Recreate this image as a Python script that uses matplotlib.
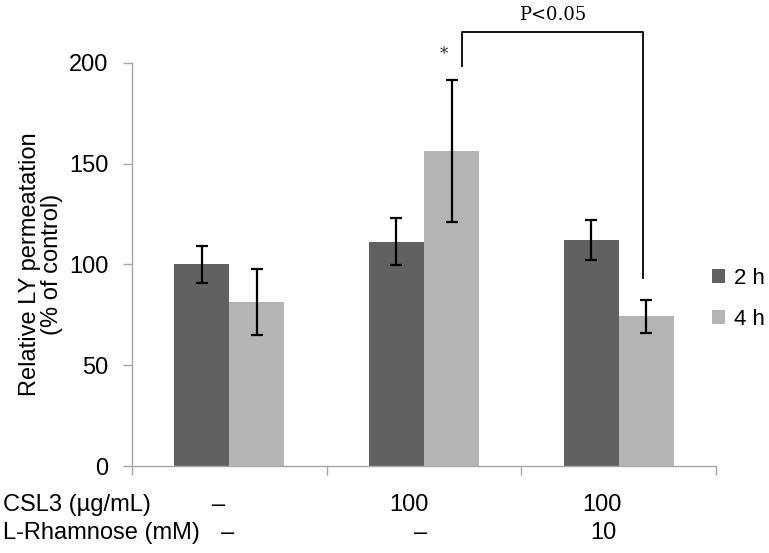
import numpy as np
import matplotlib
matplotlib.use("Agg")
import matplotlib.pyplot as plt

plt.rcParams['font.family'] = ['Liberation Sans', 'DejaVu Sans']

# datos
grupos = [0, 1, 2]
val_2h = [100, 111.3, 112]
err_2h = [9, 11.7, 10]
val_4h = [81.5, 156.2, 74.2]
err_4h = [16.3, 35, 8.1]
fila_csl3 = ["\u2013", "100", "100"]
fila_rham = ["\u2013", "\u2013", "10"]
serie_labels = ["2 h", "4 h"]

c_oscuro = "#616161"
c_claro = "#b4b4b4"
gris = "#a6a6a6"
ancho = 0.283

fig = plt.figure(figsize=(7.69, 5.53), dpi=100)
ax = fig.add_axes([0.1717, 0.1573, 0.7594, 0.7293])

x = np.array(grupos)
ax.bar(x - ancho/2, val_2h, ancho, color=c_oscuro, label=serie_labels[0], zorder=2)
ax.bar(x + ancho/2, val_4h, ancho, color=c_claro, label=serie_labels[1], zorder=2)
ax.errorbar(x - ancho/2, val_2h, yerr=err_2h, fmt='none', ecolor='black',
            elinewidth=1.6, capsize=4, capthick=1.6, zorder=3)
ax.errorbar(x + ancho/2, val_4h, yerr=err_4h, fmt='none', ecolor='black',
            elinewidth=1.6, capsize=4, capthick=1.6, zorder=3)

ax.set_xlim(-0.5, 2.5)
ax.set_ylim(0, 200)
ax.set_yticks([0, 50, 100, 150, 200])
ax.set_xticks([-0.5, 0.5, 1.5, 2.5])
ax.set_xticklabels([])
for s in ['top', 'right']:
    ax.spines[s].set_visible(False)
for s in ['left', 'bottom']:
    ax.spines[s].set_color(gris)
    ax.spines[s].set_linewidth(1.0)
ax.tick_params(axis='y', colors=gris, labelcolor='black', labelsize=17,
               length=6.5, width=1.0, pad=10.5)
ax.tick_params(axis='x', colors=gris, length=6.5, width=1.0)

fig.text(41/769, 1 - 264/553, "Relative LY permeatation\n(% of control)",
         rotation=90, ha='center', va='center', fontsize=17, linespacing=1.0)

# corchete de significancia
bx_izq, bx_der = 1.196, 2.127
ax.plot([bx_izq, bx_izq, bx_der, bx_der], [198.5, 215, 215, 93],
        color='black', lw=1.3, clip_on=False)
ax.text((bx_izq + bx_der)/2, 219, "P<0.05", ha='center', va='bottom',
        fontsize=13, family='DejaVu Serif', clip_on=False)
ax.text(1.103, 200, "*", ha='center', va='bottom', fontsize=12,
        family='DejaVu Serif', color='#333333')

# filas de condiciones bajo el eje
trans = ax.get_xaxis_transform()
fig.text(3/769, 1 - 505/553, "CSL3 (\u00b5g/mL)", ha='left', va='center', fontsize=17)
fig.text(3/769, 1 - 533/553, "L-Rhamnose (mM)", ha='left', va='center', fontsize=17)
off_1 = [-0.057, -0.077, -0.088]
off_2 = [-0.01, -0.02, -0.078]
for g, t, o in zip(grupos, fila_csl3, off_1):
    ax.text(g + o, -(505 - 466)/403.3, t, transform=trans, ha='center', va='center', fontsize=17)
for g, t, o in zip(grupos, fila_rham, off_2):
    ax.text(g + o, -(533 - 466)/403.3, t, transform=trans, ha='center', va='center', fontsize=17)

fig.legend(loc='center left', bbox_to_anchor=(712/769, 1 - 299/553), frameon=False,
           fontsize=16, handlelength=0.6, handleheight=0.6, handletextpad=0.4,
           labelspacing=0.9, borderpad=0, borderaxespad=0)

fig.savefig("out.png", dpi=100)
